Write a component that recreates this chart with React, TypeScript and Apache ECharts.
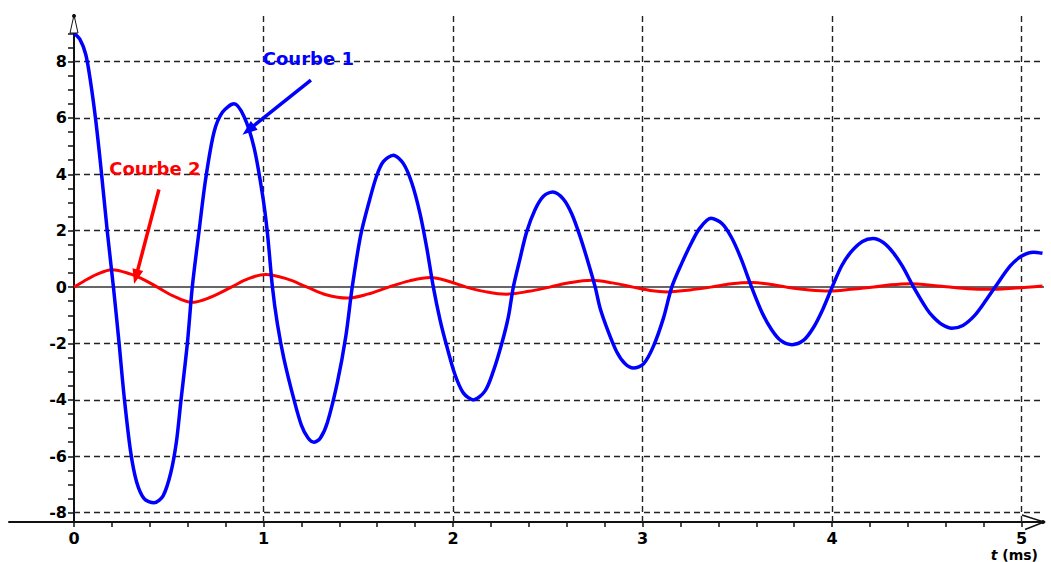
import React, { useEffect, useRef } from "react";
import * as echarts from "echarts";

// Axis extents (ms, volts)
const X_RANGE = [-0.343, 5.118];
const Y_RANGE = [-8.33, 9.65];

const xLabelValues = [0, 1, 2, 3, 4, 5];
const xTickValues = [
  0, 0.2, 0.4, 0.6, 0.8, 1, 1.2, 1.4, 1.6, 1.8, 2, 2.2, 2.4, 2.6, 2.8, 3,
  3.2, 3.4, 3.6, 3.8, 4, 4.2, 4.4, 4.6, 4.8, 5,
];
const yLabelValues = [-8, -6, -4, -2, 0, 2, 4, 6, 8];
const yTickValues = [
  -8, -7.5, -7, -6.5, -6, -5.5, -5, -4.5, -4, -3.5, -3, -2.5, -2, -1.5, -1,
  -0.5, 0, 0.5, 1, 1.5, 2, 2.5, 3, 3.5, 4, 4.5, 5, 5.5, 6, 6.5, 7, 7.5, 8,
  8.5, 9,
];
const xGridValues = [1, 2, 3, 4, 5];
const yGridValues = [-8, -6, -4, -2, 2, 4, 6, 8];
const gridLineEndX = 5.1;

const courbe1: [number, number][] = [
  [0, 9.0], [0.03, 8.8], [0.062, 8.25], [0.088, 7.25], [0.114, 5.95],
  [0.141, 4.3], [0.176, 1.95], [0.208, 0], [0.238, -2.0], [0.264, -3.85],
  [0.299, -5.85], [0.33, -6.9], [0.37, -7.5], [0.422, -7.65], [0.47, -7.4],
  [0.51, -6.6], [0.54, -5.5], [0.563, -4.1], [0.598, -2.0], [0.624, 0],
  [0.66, 2.0], [0.695, 3.85], [0.739, 5.5], [0.783, 6.2], [0.844, 6.5],
  [0.897, 6.05], [0.95, 4.95], [0.994, 3.3], [1.02, 1.95], [1.047, 0],
  [1.073, -1.3], [1.108, -2.55], [1.161, -4.0], [1.2, -4.9], [1.235, -5.35],
  [1.267, -5.5], [1.3, -5.35], [1.337, -4.8], [1.389, -3.4], [1.434, -1.75],
  [1.468, 0], [1.513, 1.85], [1.56, 3.1], [1.597, 3.95], [1.632, 4.45],
  [1.685, 4.68], [1.738, 4.38], [1.782, 3.7], [1.826, 2.6], [1.861, 1.4],
  [1.896, 0], [1.931, -1.15], [1.967, -2.1], [2.01, -3.1], [2.054, -3.75],
  [2.107, -4.0], [2.169, -3.68], [2.213, -2.97], [2.257, -2.0], [2.292, -1.05],
  [2.318, 0], [2.353, 1.0], [2.388, 1.95], [2.433, 2.75], [2.477, 3.22],
  [2.526, 3.37], [2.582, 3.12], [2.626, 2.6], [2.67, 1.8], [2.714, 0.85],
  [2.75, 0], [2.776, -0.75], [2.82, -1.6], [2.864, -2.3], [2.908, -2.72],
  [2.952, -2.87], [3.005, -2.72], [3.057, -2.1], [3.11, -1.1], [3.154, 0],
  [3.207, 0.85], [3.26, 1.6], [3.303, 2.1], [3.361, 2.44], [3.42, 2.25],
  [3.47, 1.75], [3.52, 1.0], [3.575, 0], [3.63, -0.9], [3.68, -1.5],
  [3.73, -1.9], [3.789, -2.04], [3.85, -1.88], [3.9, -1.45], [3.95, -0.8],
  [4.0, 0], [4.05, 0.75], [4.1, 1.25], [4.16, 1.62], [4.216, 1.72],
  [4.27, 1.58], [4.32, 1.24], [4.37, 0.75], [4.43, 0], [4.5, -0.78],
  [4.535, -1.07], [4.58, -1.33], [4.632, -1.46], [4.69, -1.36], [4.75, -1.02],
  [4.8, -0.58], [4.86, 0], [4.94, 0.75], [5.0, 1.1], [5.062, 1.24],
  [5.11, 1.2],
];

const courbe2: [number, number][] = [
  [0, 0], [0.05, 0.2], [0.12, 0.45], [0.2, 0.62], [0.3, 0.46], [0.37, 0.26],
  [0.44, 0], [0.52, -0.3], [0.62, -0.54], [0.72, -0.36], [0.83, 0],
  [0.92, 0.3], [1.01, 0.45], [1.12, 0.3], [1.23, 0], [1.33, -0.27],
  [1.44, -0.39], [1.55, -0.25], [1.66, 0], [1.77, 0.22], [1.88, 0.34],
  [1.98, 0.2], [2.07, 0], [2.17, -0.16], [2.28, -0.25], [2.4, -0.15],
  [2.51, 0], [2.62, 0.16], [2.73, 0.24], [2.84, 0.15], [2.95, 0],
  [3.04, -0.12], [3.13, -0.17], [3.25, -0.1], [3.36, 0], [3.47, 0.12],
  [3.58, 0.16], [3.67, 0.1], [3.76, 0], [3.88, -0.1], [3.99, -0.14],
  [4.1, -0.08], [4.22, 0], [4.31, 0.08], [4.41, 0.12], [4.52, 0.07],
  [4.62, 0], [4.72, -0.06], [4.82, -0.08], [4.97, -0.03], [5.11, 0.04],
];

const annotations = [
  { name: "Courbe 1", color: "#0000ff", textAt: [0.996, 8.12], arrowFrom: [1.25, 7.34], arrowTo: [0.92, 5.57] },
  { name: "Courbe 2", color: "#ff0000", textAt: [0.186, 4.22], arrowFrom: [0.448, 3.46], arrowTo: [0.327, 0.365] },
];

const AXIS_COLOR = "#111";
const FONT = "DejaVu Sans";
const GRID_LEFT = 9;
const GRID_WIDTH = 1035;
// shift the y axis from the grid's left edge onto x = 0
const Y_AXIS_OFFSET = -((0 - X_RANGE[0]) / (X_RANGE[1] - X_RANGE[0])) * GRID_WIDTH;

function arrowMarkLine(a: (typeof annotations)[number]) {
  return {
    silent: true,
    symbol: ["none", "triangle"],
    symbolSize: [11, 15],
    label: { show: false },
    emphasis: { disabled: true },
    lineStyle: { type: "solid", color: a.color, width: 3.5 },
    data: [[{ coord: a.arrowFrom }, { coord: a.arrowTo }]],
  };
}

export default function App() {
  const ref = useRef<HTMLDivElement>(null);

  useEffect(() => {
    document.body.style.margin = "0";
    if (!ref.current) return;
    const chart = echarts.init(ref.current, null, { renderer: "svg" });

    const labelStyle = {
      color: "#000",
      fontFamily: FONT,
      fontWeight: "bold",
      fontSize: 16,
    };

    const option: any = {
      animation: false,
      backgroundColor: "#fff",
      grid: { left: GRID_LEFT, top: 15, width: GRID_WIDTH, height: 507, containLabel: false, outerBoundsMode: "none" },
      xAxis: {
        type: "value",
        min: X_RANGE[0],
        max: X_RANGE[1],
        axisLine: { show: true, onZero: false, lineStyle: { color: AXIS_COLOR, width: 2 } },
        axisTick: { show: true, length: 5, customValues: xTickValues, lineStyle: { color: AXIS_COLOR, width: 1.5 } },
        axisLabel: { show: true, customValues: xLabelValues, margin: 8, ...labelStyle },
        splitLine: { show: false },
      },
      yAxis: {
        type: "value",
        min: Y_RANGE[0],
        max: Y_RANGE[1],
        offset: Y_AXIS_OFFSET,
        axisLine: { show: true, onZero: false, lineStyle: { color: AXIS_COLOR, width: 2 } },
        axisTick: { show: true, length: 6, customValues: yTickValues, lineStyle: { color: AXIS_COLOR, width: 1.5 } },
        axisLabel: { show: true, customValues: yLabelValues, margin: 7, padding: [0, 0, 6, 0], ...labelStyle },
        splitLine: { show: false },
      },
      series: [
        {
          type: "line",
          name: "grille",
          data: [],
          silent: true,
          markLine: {
            silent: true,
            z: 1,
            symbol: "none",
            label: { show: false },
            emphasis: { disabled: true },
            lineStyle: { type: [6, 4], color: "#222", width: 1.4 },
            data: [
              ...xGridValues.map((v) => ({ xAxis: v })),
              ...yGridValues.map((v) => [{ coord: [0, v] }, { coord: [gridLineEndX, v] }]),
              [
                { coord: [0, 0], lineStyle: { type: "solid", color: "#333", width: 1.6 } },
                { coord: [X_RANGE[1], 0] },
              ],
            ],
          },
        },
        {
          type: "line",
          name: "Courbe 2",
          data: courbe2,
          showSymbol: false,
          smooth: 0.35,
          z: 2,
          lineStyle: { color: "#ff0000", width: 3 },
          itemStyle: { color: "#ff0000" },
          markLine: arrowMarkLine(annotations[1]),
        },
        {
          type: "line",
          name: "Courbe 1",
          data: courbe1,
          showSymbol: false,
          smooth: 0.3,
          z: 3,
          lineStyle: { color: "#0000ff", width: 3.5 },
          itemStyle: { color: "#0000ff" },
          markLine: arrowMarkLine(annotations[0]),
        },
      ],
    };

    chart.setOption(option);

    const yTip = chart.convertToPixel({ gridIndex: 0 }, [0, Y_RANGE[1]]) as number[];
    const xTip = chart.convertToPixel({ gridIndex: 0 }, [X_RANGE[1], Y_RANGE[0]]) as number[];

    const graphics: any[] = annotations.map((a) => {
      const p = chart.convertToPixel({ gridIndex: 0 }, a.textAt) as number[];
      return {
        type: "text",
        x: p[0],
        y: p[1],
        z: 10,
        style: {
          text: a.name,
          fill: a.color,
          font: `bold 18px "${FONT}"`,
          align: "left",
          verticalAlign: "middle",
        },
      };
    });

    graphics.push(
      {
        type: "polygon",
        z: 10,
        shape: { points: [[yTip[0], yTip[1]], [yTip[0] - 4, yTip[1] + 18], [yTip[0] + 4, yTip[1] + 18]] },
        style: { fill: "#fff", stroke: AXIS_COLOR, lineWidth: 1 },
      },
      { type: "circle", z: 11, shape: { cx: yTip[0], cy: yTip[1] + 1, r: 2 }, style: { fill: AXIS_COLOR } },
      {
        type: "polyline",
        z: 10,
        shape: { points: [[xTip[0] - 22, xTip[1] - 7], [xTip[0], xTip[1]], [xTip[0] - 19, xTip[1] + 7.5]] },
        style: { fill: "none", stroke: AXIS_COLOR, lineWidth: 1.5 },
      },
      { type: "circle", z: 11, shape: { cx: xTip[0] - 1, cy: xTip[1], r: 2 }, style: { fill: AXIS_COLOR } },
      {
        type: "text",
        right: 13,
        top: 548,
        z: 10,
        style: {
          text: "{i|t} {n|(ms)}",
          fill: "#000",
          font: `bold 14px "${FONT}"`,
          rich: {
            i: { fontStyle: "italic", fontWeight: "bold", fontSize: 14, fontFamily: FONT, fill: "#000" },
            n: { fontWeight: "bold", fontSize: 14, fontFamily: FONT, fill: "#000" },
          },
        },
      }
    );

    chart.setOption({ graphic: graphics });

    return () => chart.dispose();
  }, []);

  return <div ref={ref} style={{ width: 1051, height: 562 }} />;
}
